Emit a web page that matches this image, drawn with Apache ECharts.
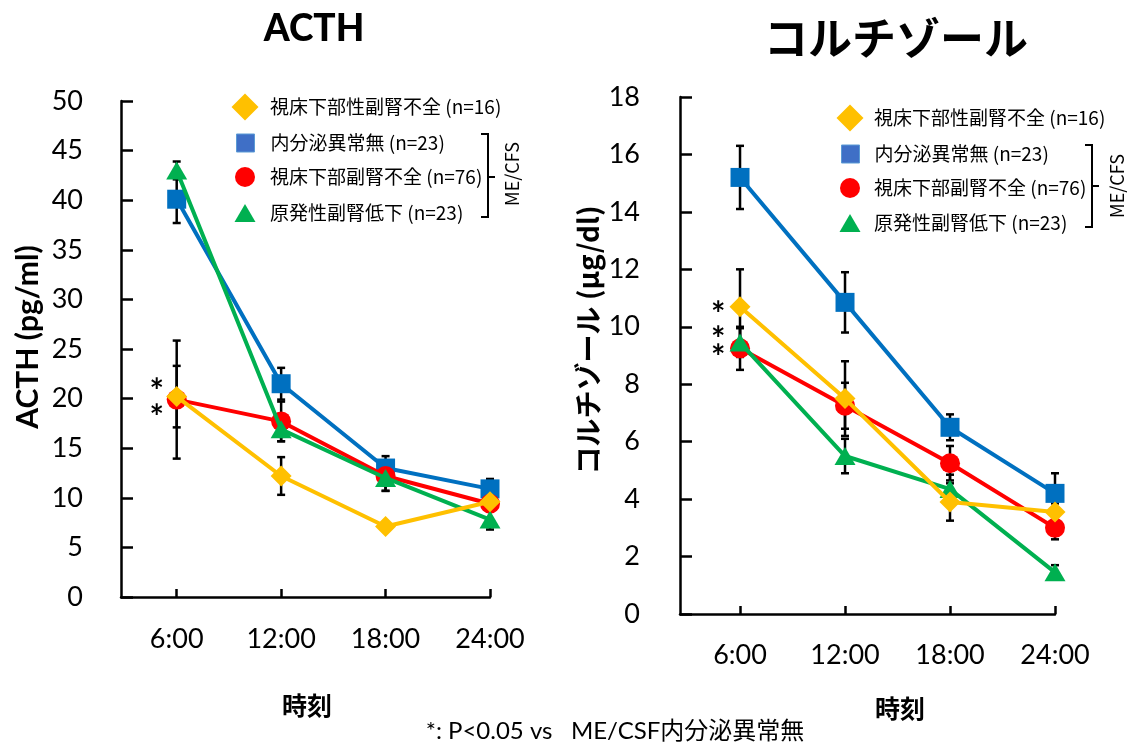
<!DOCTYPE html>
<html>
<head>
<meta charset="utf-8">
<script src="https://cdn.jsdelivr.net/npm/echarts@6/dist/echarts.min.js"></script>
<style>html,body{margin:0;padding:0;background:#fff;}#c{width:1127px;height:746px;}</style>
</head>
<body>
<div id="c"></div>
<script>
// ---- data ----
const categories = ['6:00', '12:00', '18:00', '24:00'];
const groupNames = ['視床下部性副腎不全 (n=16)', '内分泌異常無 (n=23)', '視床下部副腎不全 (n=76)', '原発性副腎低下 (n=23)'];

const acthYellow = [20.2, 12.2, 7.1, 9.6];
const acthYellowErr = [3.1, 1.9, 0.4, 0.5];
const acthBlue = [40.1, 21.5, 13.0, 10.9];
const acthBlueErr = [2.4, 1.6, 1.2, 1.0];
const acthRed = [19.9, 17.7, 12.2, 9.4];
const acthRedErr = [5.95, 2.0, 1.5, 0.8];
const acthGreen = [43.0, 16.9, 12.0, 7.8];
const acthGreenErr = [0.9, 1.2, 1.3, 1.0];

const cortYellow = [10.7, 7.5, 3.9, 3.55];
const cortYellowErr = [1.3, 1.3, 0.65, 0.3];
const cortBlue = [15.2, 10.85, 6.5, 4.2];
const cortBlueErr = [1.1, 1.05, 0.45, 0.7];
const cortRed = [9.25, 7.25, 5.25, 3.0];
const cortRedErr = [0.75, 0.8, 0.6, 0.4];
const cortGreen = [9.45, 5.5, 4.35, 1.45];
const cortGreenErr = [0.5, 0.6, 0.5, 0.25];

const acthTicks = [0, 5, 10, 15, 20, 25, 30, 35, 40, 45, 50];
const cortTicks = [0, 2, 4, 6, 8, 10, 12, 14, 16, 18];

// significance markers: [hour, value]
const acthStars = [[4.85, 21.5], [4.85, 18.85]];
const cortStars = [[4.76, 10.7], [4.76, 9.83], [4.76, 9.19]];

// ---- build ----
const hours = categories.map(c => parseInt(c, 10));
const styles = [
  { color: '#FFC000', symbol: 'diamond', size: [21, 21], legendIcon: [27, 27], z: 6 },
  { color: '#0070C0', symbol: 'rect', size: [19, 19], legendIcon: [18, 18], z: 3, legendColor: '#3F6FC6' },
  { color: '#FF0000', symbol: 'circle', size: [20, 20], legendIcon: [20, 20], z: 4 },
  { color: '#00B050', symbol: 'triangle', size: [21, 18], legendIcon: [21, 18], z: 5 }
];
const acthVals = [acthYellow, acthBlue, acthRed, acthGreen];
const acthErrs = [acthYellowErr, acthBlueErr, acthRedErr, acthGreenErr];
const cortVals = [cortYellow, cortBlue, cortRed, cortGreen];
const cortErrs = [cortYellowErr, cortBlueErr, cortRedErr, cortGreenErr];

const numFont = 'Lato';
const cjk = '"Noto Sans CJK JP"';

function errRender(params, api) {
  const x = api.value(0), y = api.value(1), e = api.value(2);
  const t = api.coord([x, y + e]);
  const b = api.coord([x, y - e]);
  const hw = 4;
  const st = { stroke: '#000', lineWidth: 2.5 };
  return {
    type: 'group', children: [
      { type: 'line', shape: { x1: t[0], y1: t[1], x2: b[0], y2: b[1] }, style: st },
      { type: 'line', shape: { x1: t[0] - hw, y1: t[1], x2: t[0] + hw, y2: t[1] }, style: st },
      { type: 'line', shape: { x1: b[0] - hw, y1: b[1], x2: b[0] + hw, y2: b[1] }, style: st }
    ]
  };
}
function starRender(params, api) {
  const p = api.coord([api.value(0), api.value(1)]);
  return {
    type: 'text', x: p[0], y: p[1] + 8,
    style: { text: '*', font: 'bold 34px ' + numFont, fill: '#000', align: 'center', verticalAlign: 'middle' }
  };
}

const series = [];
function addChart(idx, vals, errs, stars) {
  vals.forEach((v, g) => {
    series.push({
      type: 'custom', name: 'err' + idx + '_' + g, xAxisIndex: idx, yAxisIndex: idx, z: 1,
      renderItem: errRender, encode: { x: 0, y: 1 },
      data: hours.map((h, i) => [h, v[i], errs[g][i]]), silent: true
    });
  });
  vals.forEach((v, g) => {
    const s = styles[g];
    series.push({
      type: 'line', name: groupNames[g], xAxisIndex: idx, yAxisIndex: idx, z: s.z,
      data: hours.map((h, i) => [h, v[i]]),
      symbol: s.symbol, symbolSize: s.size,
      lineStyle: { color: s.color, width: 4 },
      itemStyle: { color: s.color, opacity: 1 },
      emphasis: { disabled: true }
    });
  });
  series.push({
    type: 'custom', name: 'stars' + idx, xAxisIndex: idx, yAxisIndex: idx, z: 8,
    renderItem: starRender, encode: { x: 0, y: 1 }, data: stars, silent: true
  });
}
addChart(0, acthVals, acthErrs, acthStars);
addChart(1, cortVals, cortErrs, cortStars);

const legends = [];
function addLegends(cx, rows, textX) {
  groupNames.forEach((n, g) => {
    const w = styles[g].legendIcon[0], h = styles[g].legendIcon[1];
    const item = { name: n, icon: styles[g].symbol };
    if (styles[g].legendColor) item.itemStyle = { color: styles[g].legendColor, borderColor: '#5B9BD5', borderWidth: 1 };
    legends.push({
      data: [item],
      left: cx - w / 2, top: rows[g] - 15, padding: 0,
      itemWidth: w, itemHeight: h, selectedMode: false,
      textStyle: { fontFamily: cjk, fontSize: 19, color: '#000', lineHeight: 30, padding: [0, 0, 0, textX - (cx + w / 2) - 5] }
    });
  });
}
addLegends(245, [107, 143, 177, 213], 270);
addLegends(850, [118, 154, 188, 223], 874);

function xAxis(idx, min) {
  return {
    type: 'value', gridIndex: idx, min: min, max: 24,
    axisLine: { show: true, lineStyle: { color: '#000', width: 2.5 } },
    axisTick: { show: true, inside: true, length: 8, customValues: hours, lineStyle: { color: '#000', width: 2.5 } },
    axisLabel: { customValues: hours, formatter: v => categories[hours.indexOf(v)] || '', color: '#000', fontFamily: numFont, fontSize: 27, margin: idx === 0 ? 29 : 28 },
    splitLine: { show: false }
  };
}
function yAxis(idx, ticks, margin) {
  return {
    type: 'value', gridIndex: idx, min: ticks[0], max: ticks[ticks.length - 1], interval: ticks[1] - ticks[0],
    axisLine: { show: true, lineStyle: { color: '#000', width: 2.5 } },
    axisTick: { show: true, inside: true, length: 12, lineStyle: { color: '#000', width: 2.5 } },
    axisLabel: { color: '#000', fontFamily: numFont, fontSize: 27, margin: margin },
    splitLine: { show: false }
  };
}

const txt = (text, x, y, font, rot) => ({
  type: 'text', x: x, y: y, rotation: rot || 0,
  style: { text: text, font: font, fill: '#000', align: 'center', verticalAlign: 'middle' }
});
const bracket = (x, y1, y2, ym) => ({
  type: 'group', children: [
    { type: 'polyline', shape: { points: [[x - 7, y1], [x, y1], [x, y2], [x - 7, y2]] }, style: { stroke: '#000', lineWidth: 2, fill: null } },
    { type: 'line', shape: { x1: x, y1: ym, x2: x + 7, y2: ym }, style: { stroke: '#000', lineWidth: 2 } }
  ]
});

const option = {
  animation: false,
  backgroundColor: '#fff',
  grid: [
    { left: 121, top: 101, width: 369, height: 496 },
    { left: 680, top: 97, width: 375, height: 517 }
  ],
  xAxis: [xAxis(0, 2.8), xAxis(1, 2.57)],
  yAxis: [yAxis(0, acthTicks, 38), yAxis(1, cortTicks, 40)],
  legend: legends,
  series: series,
  graphic: [
    txt('ACTH', 314, 29, '900 37px ' + numFont),
    txt('コルチゾール', 896, 38, 'bold 44px ' + cjk),
    txt('ACTH (pg/ml)', 28, 337, 'bold 30px ' + numFont, Math.PI / 2),
    txt('コルチゾール (µg/dl)', 588, 340, 'bold 28px ' + cjk, Math.PI / 2),
    txt('時刻', 307, 705, 'bold 25px ' + cjk),
    txt('時刻', 900, 708, 'bold 25px ' + cjk),
    txt('*: P<0.05 vs   ME/CSF内分泌異常無', 615, 731, '24px ' + numFont + ', ' + cjk),
    bracket(488, 134, 217, 177),
    bracket(1092, 145, 227, 186),
    txt('ME/CFS', 512, 174, '18px ' + cjk, Math.PI / 2),
    txt('ME/CFS', 1117, 186, '18px ' + cjk, Math.PI / 2)
  ]
};
const chart = echarts.init(document.getElementById('c'), null, { renderer: 'canvas' });
chart.setOption(option);
</script>
</body>
</html>
